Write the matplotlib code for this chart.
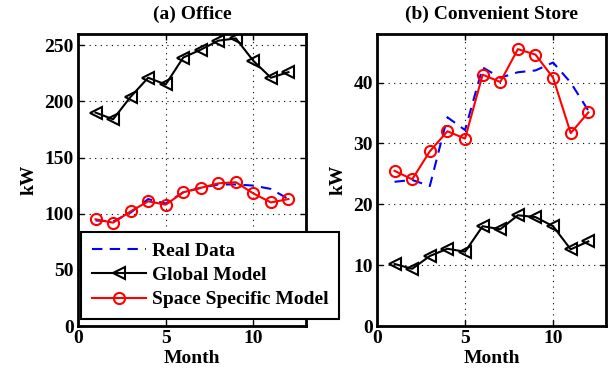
import matplotlib.pyplot as plt

plt.rcParams['font.family'] = ['Liberation Serif', 'DejaVu Serif']
plt.rcParams['font.weight'] = 'bold'

months = list(range(1, 13))

office_real = [94, 93, 101, 113, 109, 119, 123, 126, 126, 125, 122, 113]
office_global = [190, 184, 204, 221, 215, 239, 246, 254, 256, 236, 221, 226]
office_space = [95, 92, 102, 111, 108, 119, 123, 127, 128, 118, 110, 113]

store_real = [23.7, 24.0, 23.0, 34.3, 32.2, 42.5, 40.8, 41.7, 42.0, 43.3, 40.0, 35.4]
store_global = [10.2, 9.4, 11.5, 12.7, 12.2, 16.4, 15.9, 18.2, 17.9, 16.4, 12.6, 13.9]
store_space = [25.5, 24.1, 28.7, 32.0, 30.8, 41.3, 40.1, 45.5, 44.6, 40.8, 31.7, 35.1]

fig = plt.figure(figsize=(6.08, 3.74), dpi=100)
ax1 = fig.add_axes([0.1283, 0.1283, 0.375, 0.781])
ax2 = fig.add_axes([0.620, 0.1283, 0.3766, 0.781])


def draw(ax, real, glob, space, title, ylim, yticks):
    ax.plot(months, real, c='blue', linestyle=(0, (5, 3.5)), lw=1.5, label='Real Data')
    ax.plot(months, glob, c='black', lw=1.5, marker='<', ms=8.5, mfc='none',
            mew=1.5, label='Global Model')
    ax.plot(months, space, c='red', lw=1.5, marker='o', ms=8, mfc='none',
            mew=1.5, label='Space Specific Model')
    ax.set_xlim(0, 13)
    ax.set_ylim(*ylim)
    ax.set_xticks([0, 5, 10])
    ax.set_yticks(yticks)
    ax.grid(True, linestyle=(0, (1, 4)), color='black', lw=0.8)
    ax.tick_params(direction='in', top=True, right=True, labelsize=14, width=1, length=4)
    ax.tick_params(axis='x', pad=3)
    ax.tick_params(axis='y', pad=3)
    for s in ax.spines.values():
        s.set_linewidth(2)
    ax.set_title(title, fontsize=14, fontweight='bold', pad=11)
    ax.set_xlabel('Month', fontsize=14, fontweight='bold', labelpad=2)
    ax.set_ylabel('kW', fontsize=14, fontweight='bold', labelpad=5)


draw(ax1, office_real, office_global, office_space, '(a) Office', (0, 260), range(0, 251, 50))
draw(ax2, store_real, store_global, store_space, '(b) Convenient Store', (0, 48), range(0, 41, 10))

h, l = ax1.get_legend_handles_labels()
leg = fig.legend(h, l, loc='lower left', bbox_to_anchor=(0.133, 0.147), fontsize=14,
                 handlelength=2.8, handletextpad=0.3, labelspacing=0.33, borderpad=0.55,
                 borderaxespad=0, fancybox=False, framealpha=1, edgecolor='black')
leg.get_frame().set_linewidth(1.5)

fig.savefig('out.png', dpi=100)
